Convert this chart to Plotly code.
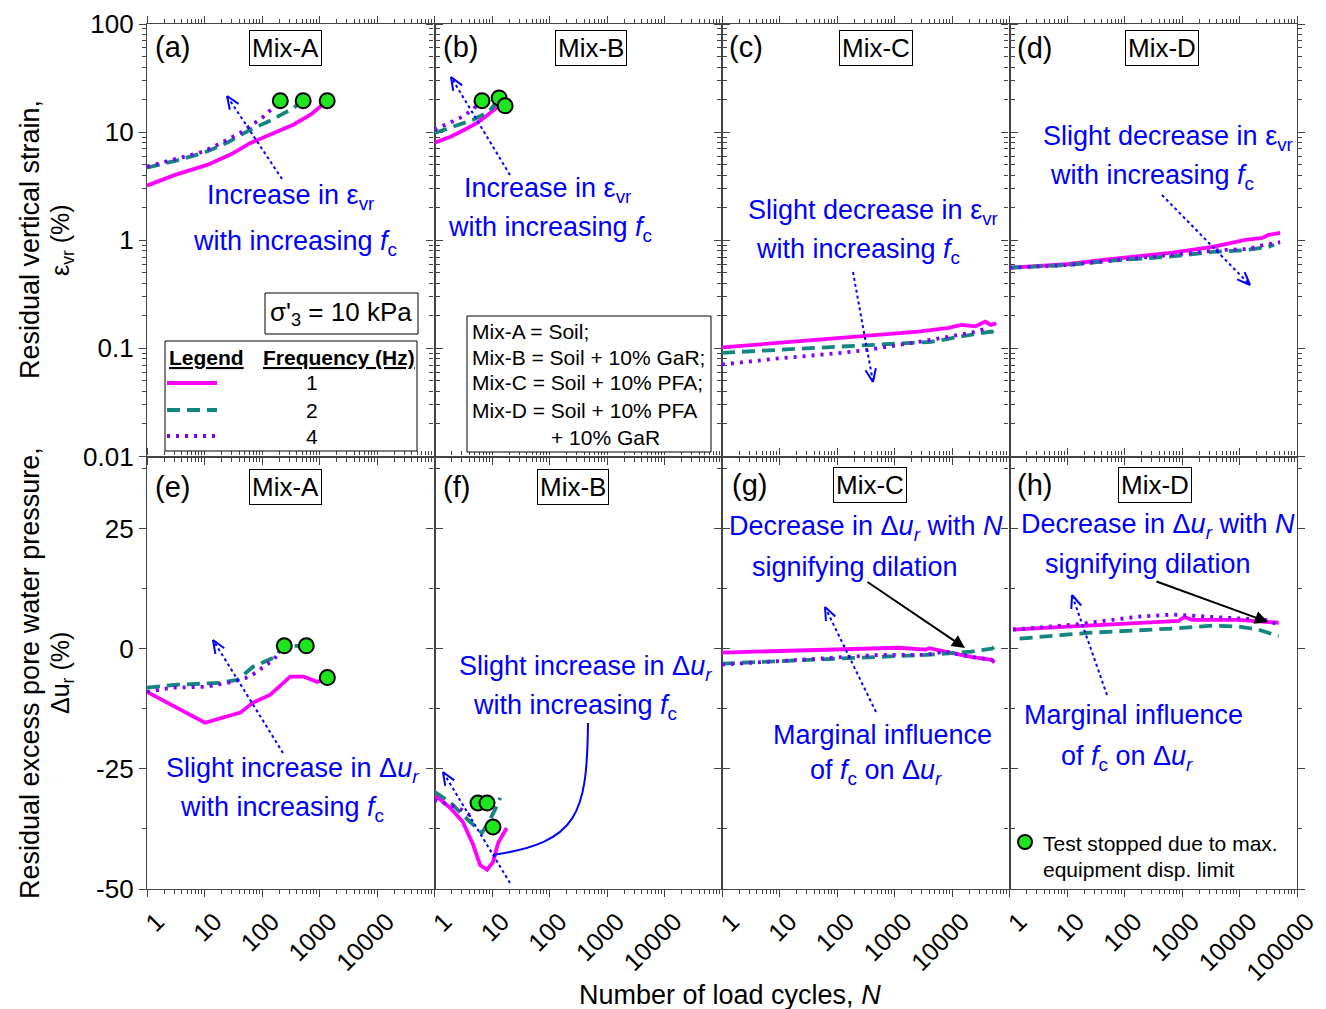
import math
import plotly.graph_objects as go
from plotly.subplots import make_subplots

# ---------------- data ----------------
FREQS = ["1", "2", "4"]

# (a) Mix-A residual vertical strain (%)
A_N_1 = [1, 3, 11.5, 30, 62, 150, 350, 700, 1030, 1360]
A_e_1 = [3.2, 4.0, 5.0, 6.3, 7.9, 9.6, 11.7, 14.5, 17.0, 19.5]
A_N_2 = [1, 3, 9.5, 25, 62, 150, 350, 520]
A_e_2 = [4.7, 5.4, 6.4, 8.0, 10.5, 13.0, 16.7, 19.5]
A_N_4 = [1, 3, 9.5, 20, 41, 100, 156, 208]
A_e_4 = [4.8, 5.6, 6.6, 8.0, 9.8, 13.5, 17.0, 19.5]
A_stop_N = [208, 520, 1360]
A_stop_e = [19.5, 19.5, 19.5]

# (b) Mix-B
B_N_1 = [1, 1.86, 3.2, 5.5, 8.5, 12.3, 16.9]
B_e_1 = [8.0, 9.0, 10.4, 12.2, 14.5, 17.0, 17.5]
B_N_2 = [1, 1.86, 3, 4.7, 7, 9.2, 13.3]
B_e_2 = [9.8, 11.0, 12.0, 13.0, 14.5, 16.0, 20.0]
B_N_4 = [1, 1.86, 3, 4.5, 6.7]
B_e_4 = [10.5, 12.2, 13.8, 16.0, 19.5]
B_stop_N = [6.7, 13.3, 16.9]
B_stop_e = [19.5, 20.7, 17.5]

# (c) Mix-C
C_N_1 = [1, 10, 100, 1000, 2600, 8700, 14600, 25500, 38000, 47000, 59000]
C_e_1 = [0.102, 0.112, 0.123, 0.136, 0.143, 0.155, 0.165, 0.160, 0.177, 0.165, 0.170]
C_N_2 = [1, 10, 100, 350, 4400, 22000, 49000, 55000]
C_e_2 = [0.091, 0.097, 0.104, 0.108, 0.115, 0.134, 0.143, 0.136]
C_N_4 = [1, 10, 100, 350, 4400, 22000, 43000]
C_e_4 = [0.071, 0.081, 0.090, 0.097, 0.120, 0.140, 0.155]

# (d) Mix-D
D_N_1 = [1, 10, 46, 680, 3400, 12700, 25000, 32000, 51000]
D_e_1 = [0.557, 0.60, 0.66, 0.77, 0.87, 1.01, 1.05, 1.12, 1.17]
D_N_2 = [1, 10, 46, 680, 3400, 12700, 32000, 40000]
D_e_2 = [0.557, 0.59, 0.64, 0.71, 0.78, 0.81, 0.87, 0.91]
D_N_4 = [1, 10, 46, 680, 4400, 14000, 28000, 51000]
D_e_4 = [0.557, 0.59, 0.64, 0.74, 0.81, 0.83, 0.91, 0.96]

# (e) Mix-A residual excess pore water pressure (%)
E_N_1 = [1, 10.2, 42, 70, 138, 310, 525, 910, 1370]
E_u_1 = [-9.0, -15.4, -13.3, -11.2, -9.6, -5.8, -5.8, -6.9, -6.0]
E_N_2 = [1, 3.3, 18.7, 37, 70, 158, 244, 590]
E_u_2 = [-8.1, -7.5, -7.1, -6.5, -3.75, -1.9, 0.6, 0.6]
E_N_4 = [1, 2.8, 11, 31, 62, 158, 208, 244]
E_u_4 = [-9.0, -8.1, -7.9, -6.9, -5.8, -2.3, -0.6, 0.6]
E_stop_N = [244, 590, 1370]
E_stop_u = [0.6, 0.6, -6.0]

# (f) Mix-B
F_N_1 = [1, 1.86, 3.1, 4.7, 6.2, 8.2, 10.4, 12.8, 18]
F_u_1 = [-30.4, -33.1, -36.0, -40.8, -45.0, -46.0, -44.4, -40.4, -37.3]
F_N_2 = [1, 1.86, 3.1, 4.7, 6.7, 8.2, 10.4, 11.3, 13.9]
F_u_2 = [-29.8, -31.9, -34.6, -36.7, -38.3, -36.7, -34.6, -33.5, -31.0]
F_N_4 = [1, 2.5, 4.1, 5.7]
F_u_4 = [-31.5, -33.0, -34.6, -32.1]
F_stop_N = [5.7, 8.2, 10.4]
F_stop_u = [-32.1, -32.1, -37.1]

# (g) Mix-C
G_N_1 = [1, 47, 1170, 3460, 4000, 7600, 21600, 49000, 55000]
G_u_1 = [-0.8, -0.2, 0.2, -0.2, 0.1, -0.6, -1.7, -2.3, -2.9]
G_N_2 = [1, 24, 520, 3460, 9800, 21600, 49000, 55000]
G_u_2 = [-3.1, -2.3, -1.7, -1.3, -0.8, -0.6, 0.0, 0.4]
G_N_4 = [1, 24, 520, 3460, 7600, 21600, 49000, 55000]
G_u_4 = [-3.3, -2.3, -1.3, -1.3, -0.6, -1.7, -2.3, -2.7]

# (h) Mix-D
H_N_1 = [1.15, 46, 870, 1100, 1500, 9600, 28000, 48000]
H_u_1 = [4.0, 5.0, 5.8, 6.6, 6.0, 6.0, 5.6, 5.4]
H_N_2 = [1.5, 23, 680, 3400, 9600, 21000, 48000]
H_u_2 = [2.1, 3.3, 4.2, 4.8, 4.6, 4.0, 2.6]
H_N_4 = [1.15, 13, 180, 680, 5000, 28000, 48000]
H_u_4 = [4.0, 5.0, 6.7, 7.1, 6.5, 6.0, 5.0]

X_TICKS = [1, 10, 100, 1000, 10000]
X_TICKS_D = [1, 10, 100, 1000, 10000, 100000]
YT_TICKS = [0.01, 0.1, 1, 10, 100]
YT_LABELS = ["0.01", "0.1", "1", "10", "100"]
YB_TICKS = [-50, -25, 0, 25]

# ---------------- styling ----------------
FONT = "Liberation Sans, Arial, sans-serif"
BLUE = "#0000ff"
STYLE = {
    "1": dict(color="#ff00ff", dash="solid", width=3.8),
    "2": dict(color="#14857f", dash="13px,7px", width=3.8),
    "4": dict(color="#8000ff", dash="3px,6px", width=3.8),
}
GREEN = "#1ee61e"

W, H = 1326, 1009
L, R, T, B = 147, 1297, 24, 889


def px(x):
    return (x - L) / (R - L)


def py(y):
    return (B - y) / (B - T)


fig = make_subplots(rows=2, cols=4, horizontal_spacing=0, vertical_spacing=0)

panels = [
    (1, 1, [(A_N_1, A_e_1), (A_N_2, A_e_2), (A_N_4, A_e_4)], (A_stop_N, A_stop_e)),
    (1, 2, [(B_N_1, B_e_1), (B_N_2, B_e_2), (B_N_4, B_e_4)], (B_stop_N, B_stop_e)),
    (1, 3, [(C_N_1, C_e_1), (C_N_2, C_e_2), (C_N_4, C_e_4)], None),
    (1, 4, [(D_N_1, D_e_1), (D_N_2, D_e_2), (D_N_4, D_e_4)], None),
    (2, 1, [(E_N_1, E_u_1), (E_N_2, E_u_2), (E_N_4, E_u_4)], (E_stop_N, E_stop_u)),
    (2, 2, [(F_N_1, F_u_1), (F_N_2, F_u_2), (F_N_4, F_u_4)], (F_stop_N, F_stop_u)),
    (2, 3, [(G_N_1, G_u_1), (G_N_2, G_u_2), (G_N_4, G_u_4)], None),
    (2, 4, [(H_N_1, H_u_1), (H_N_2, H_u_2), (H_N_4, H_u_4)], None),
]

for row, col, series, stop in panels:
    for f, (xs, ys) in zip(FREQS, series):
        fig.add_trace(go.Scatter(x=xs, y=ys, mode="lines", line=STYLE[f],
                                 showlegend=False, hoverinfo="skip"), row=row, col=col)
    if stop:
        fig.add_trace(go.Scatter(x=stop[0], y=stop[1], mode="markers",
                                 marker=dict(size=15, color=GREEN, line=dict(color="black", width=2)),
                                 showlegend=False, hoverinfo="skip"), row=row, col=col)

AX = dict(showline=True, linecolor="#444", linewidth=1.2, mirror="allticks",
          ticks="outside", ticklen=7, tickwidth=1.2, tickcolor="#444",
          showgrid=False, zeroline=False, automargin=False,
          tickfont=dict(family=FONT, size=26, color="black"))

minor_log_x = [m * 10 ** d for d in range(0, 5) for m in range(2, 10)]
minor_log_y = [m * 10 ** d for d in range(-2, 2) for m in range(2, 10)]

for row in (1, 2):
    for col in (1, 2, 3, 4):
        tv = X_TICKS_D if col == 4 else X_TICKS
        fig.update_xaxes(row=row, col=col, type="log", range=[0, 5], tickvals=tv,
                         ticktext=[str(v) for v in tv], tickangle=-45, ticklabelshift=10,
                         showticklabels=(row == 2),
                         minor=dict(tickvals=minor_log_x, ticks="outside", ticklen=4,
                                    tickwidth=1, tickcolor="#444"),
                         **{**AX, "tickfont": dict(family=FONT, size=25, color="black")})
        if row == 1:
            fig.update_yaxes(row=row, col=col, type="log", range=[-2, 2], tickvals=YT_TICKS,
                             ticktext=YT_LABELS, showticklabels=(col == 1),
                             minor=dict(tickvals=minor_log_y, ticks="outside", ticklen=4,
                                        tickwidth=1, tickcolor="#444"), **AX)
        else:
            fig.update_yaxes(row=row, col=col, range=[-50, 40], tickvals=YB_TICKS,
                             ticktext=[str(v) for v in YB_TICKS], showticklabels=(col == 1),
                             minor=dict(tickvals=[-37.5, -12.5, 12.5, 37.5], ticks="outside",
                                        ticklen=4, tickwidth=1, tickcolor="#444"), **AX)

shapes = []
annotations = []


def text(x, y, s, size=27, color=BLUE, xanchor="center", **kw):
    annotations.append(dict(x=px(x), y=py(y), xref="paper", yref="paper", text=s,
                            showarrow=False, xanchor=xanchor, yanchor="middle",
                            font=dict(family=FONT, size=size, color=color), **kw))


def box_label(x, y, s):
    text(x, y, s, size=26, color="black", bordercolor="black", borderwidth=1,
         borderpad=2, bgcolor="white")


def dotted_arrow(x0, y0, x1, y1):
    shapes.append(dict(type="line", xref="paper", yref="paper", x0=px(x0), y0=py(y0),
                       x1=px(x1), y1=py(y1), line=dict(color=BLUE, width=2, dash="dot")))
    dx, dy = x1 - x0, y1 - y0
    n = math.hypot(dx, dy)
    ux, uy = dx / n, dy / n
    Lh, a = 14, math.radians(22)
    for s in (1, -1):
        ca, sa = math.cos(s * a), math.sin(s * a)
        rx = ux * ca - uy * sa
        ry = ux * sa + uy * ca
        hx, hy = x1 - Lh * rx, y1 - Lh * ry
        shapes.append(dict(type="line", xref="paper", yref="paper", x0=px(hx), y0=py(hy),
                           x1=px(x1), y1=py(y1), line=dict(color=BLUE, width=2)))


def black_arrow(x0, y0, x1, y1):
    annotations.append(dict(x=px(x1), y=py(y1), xref="paper", yref="paper", text="",
                            showarrow=True, ax=x0 - x1, ay=y0 - y1, axref="pixel", ayref="pixel",
                            arrowhead=2, arrowsize=1.3, arrowwidth=2, arrowcolor="black"))


# panel letters and mix labels
for (x, y, s) in [(172, 47, "(a)"), (460, 47, "(b)"), (746, 47, "(c)"), (1034, 48, "(d)"),
                  (172, 487, "(e)"), (456, 487, "(f)"), (749, 485, "(g)"), (1034, 485, "(h)")]:
    text(x, y, s, size=29, color="black")
for (x, y, s) in [(285, 48, "Mix-A"), (591, 48, "Mix-B"), (876, 48, "Mix-C"), (1162, 48, "Mix-D"),
                  (285, 487, "Mix-A"), (573, 487, "Mix-B"), (870, 485, "Mix-C"), (1155, 485, "Mix-D")]:
    box_label(x, y, s)

FC = "<i>f</i><sub>c</sub>"
EVR = "ε<sub>vr</sub>"
DUR = "Δ<i>u</i><sub><i>r</i></sub>"

text(290, 197, "Increase in " + EVR)
text(295, 243, "with increasing " + FC)
text(547, 190, "Increase in " + EVR)
text(550, 229, "with increasing " + FC)
text(873, 212, "Slight decrease in " + EVR)
text(858, 251, "with increasing " + FC)
text(1168, 138, "Slight decrease in " + EVR)
text(1152, 177, "with increasing " + FC)
text(292, 770, "Slight increase in " + DUR)
text(282, 809, "with increasing " + FC)
text(585, 668, "Slight increase in " + DUR)
text(575, 707, "with increasing " + FC)
text(866, 528, "Decrease in " + DUR + " with <i>N</i>")
text(855, 567, "signifying dilation")
text(882, 735, "Marginal influence")
text(876, 772, "of " + FC + " on " + DUR)
text(1158, 526, "Decrease in " + DUR + " with <i>N</i>")
text(1148, 564, "signifying dilation")
text(1133, 715, "Marginal influence")
text(1127, 758, "of " + FC + " on " + DUR)

dotted_arrow(282, 179, 227, 96)
dotted_arrow(510, 175, 451, 77)
dotted_arrow(853, 272, 873, 382)
dotted_arrow(1162, 195, 1250, 285)
dotted_arrow(283, 753, 213, 640)
dotted_arrow(510, 883, 443, 772)
dotted_arrow(876, 712, 825, 607)
dotted_arrow(1107, 695, 1072, 595)

black_arrow(866, 581, 965, 648)
black_arrow(1155, 581, 1268, 622)

# blue callout curve in (f)
shapes.append(dict(type="path", xref="paper", yref="paper",
                   path="M {},{} C {},{} {},{} {},{}".format(
                       px(493), py(855), px(578), py(842), px(587), py(815), px(588), py(723)),
                   line=dict(color=BLUE, width=2)))

# sigma box (a)
shapes.append(dict(type="rect", xref="paper", yref="paper", x0=px(265), y0=py(334),
                   x1=px(418), y1=py(293), line=dict(color="black", width=1), fillcolor="white"))
text(341, 313, "σ'<sub>3</sub> = 10 kPa", size=26, color="black")

# legend box (a)
shapes.append(dict(type="rect", xref="paper", yref="paper", x0=px(165), y0=py(451),
                   x1=px(417), y1=py(341), line=dict(color="black", width=1), fillcolor="white"))
text(167, 357, "<b><u>Legend</u></b>", size=21, color="black", xanchor="left")
text(261, 357, "<b><u>Frequency (Hz)</u></b>", size=21, color="black", xanchor="left")
for f, yy in zip(FREQS, [383, 410, 436]):
    st = STYLE[f]
    shapes.append(dict(type="line", xref="paper", yref="paper", x0=px(167), y0=py(yy),
                       x1=px(217), y1=py(yy), line=dict(color=st["color"], width=st["width"],
                                                         dash=st["dash"])))
    text(312, yy, f, size=21, color="black")

# mix definitions box (b)
shapes.append(dict(type="rect", xref="paper", yref="paper", x0=px(467), y0=py(452),
                   x1=px(711), y1=py(316), line=dict(color="black", width=1), fillcolor="white"))
for s, yy, xx in [("Mix-A = Soil;", 331, 470), ("Mix-B = Soil + 10% GaR;", 357, 470),
                  ("Mix-C = Soil + 10% PFA;", 383, 470), ("Mix-D = Soil + 10% PFA", 410, 470),
                  ("+ 10% GaR", 437, 549)]:
    text(xx, yy, s, size=21, color="black", xanchor="left")

# test stopped note (h)
shapes.append(dict(type="circle", xref="paper", yref="paper", x0=px(1018), y0=py(849),
                   x1=px(1032), y1=py(835), line=dict(color="black", width=2), fillcolor=GREEN))
text(1041, 843, "Test stopped due to max.", size=21, color="black", xanchor="left")
text(1041, 869, "equipment disp. limit", size=21, color="black", xanchor="left")

# axis titles
text(730, 995, "Number of load cycles, <i>N</i>", size=27, color="black")
text(30, 240, "Residual vertical strain,", size=27, color="black", textangle=-90)
text(62, 240, "ε<sub>vr</sub> (%)", size=25, color="black", textangle=-90)
text(30, 673, "Residual excess pore water pressure,", size=27, color="black", textangle=-90)
text(62, 673, "Δu<sub>r</sub> (%)", size=25, color="black", textangle=-90)

fig.update_layout(width=W, height=H, margin=dict(l=L, r=W - R, t=T, b=H - B, autoexpand=False),
                  paper_bgcolor="white", plot_bgcolor="white", showlegend=False,
                  shapes=shapes, annotations=annotations,
                  font=dict(family=FONT, color="black"))

fig.write_html("out.html", config={"displayModeBar": False})

# remove the browser's default page margin so the figure sits at the window origin
with open("out.html", "r", encoding="utf-8") as fh:
    html = fh.read()
html = html.replace("<body>", '<body style="margin:0;padding:0;overflow:hidden">', 1)
with open("out.html", "w", encoding="utf-8") as fh:
    fh.write(html)
